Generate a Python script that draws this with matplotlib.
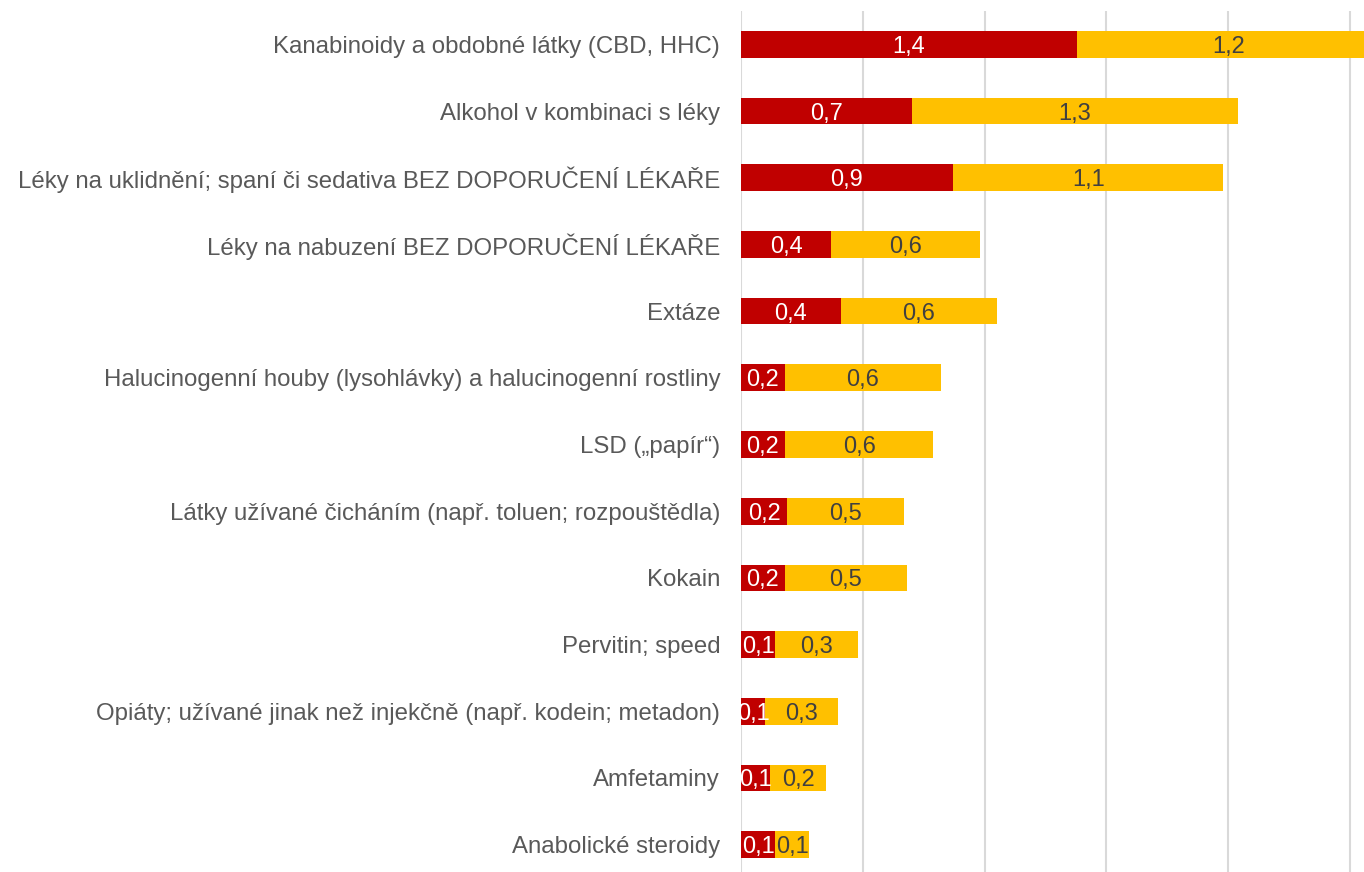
import numpy as np
import matplotlib
matplotlib.use("Agg")
import matplotlib.pyplot as plt

plt.rcParams['font.family'] = ['Liberation Sans', 'DejaVu Sans']

kategorie = [
    "Kanabinoidy a obdobné látky (CBD, HHC)",
    "Alkohol v kombinaci s léky",
    "Léky na uklidnění; spaní či sedativa BEZ DOPORUČENÍ LÉKAŘE",
    "Léky na nabuzení BEZ DOPORUČENÍ LÉKAŘE",
    "Extáze",
    "Halucinogenní houby (lysohlávky) a halucinogenní rostliny",
    "LSD („papír“)",
    "Látky užívané čicháním (např. toluen; rozpouštědla)",
    "Kokain",
    "Pervitin; speed",
    "Opiáty; užívané jinak než injekčně (např. kodein; metadon)",
    "Amfetaminy",
    "Anabolické steroidy",
]
cervena = [1.38, 0.70, 0.87, 0.37, 0.41, 0.18, 0.18, 0.19, 0.18, 0.14, 0.10, 0.12, 0.14]
zluta = [1.24, 1.34, 1.11, 0.61, 0.64, 0.64, 0.61, 0.48, 0.50, 0.34, 0.30, 0.23, 0.14]

CERVENA = '#C00000'
ZLUTA = '#FFC000'


def cz(v):
    return f"{v:.1f}".replace('.', ',')


fig = plt.figure(figsize=(13.64, 8.72), dpi=100)
ax = fig.add_axes([741 / 1364, 1 - 878 / 872, 1 - 741 / 1364, 867 / 872])

y = np.arange(len(kategorie))
ax.barh(y, cervena, height=0.4, color=CERVENA, zorder=2)
ax.barh(y, zluta, left=cervena, height=0.4, color=ZLUTA, zorder=2)

# popisky hodnot doprostred segmentu
for i in range(len(kategorie)):
    ax.text(cervena[i] / 2, y[i], cz(cervena[i]), ha='center', va='center_baseline',
            color='white', fontsize=17, zorder=3)
    ax.text(cervena[i] + zluta[i] / 2, y[i], cz(zluta[i]), ha='center',
            va='center_baseline', color='#404040', fontsize=17, zorder=3)

ax.set_yticks(y)
ax.set_yticklabels(kategorie, fontsize=17.3, color='#595959')
ax.set_ylim(len(kategorie) - 0.5, -0.5)
ax.set_xlim(0, 623 / 243.6)
ax.set_xticks(np.arange(0, 2.6, 0.5))
ax.tick_params(axis='x', length=0, labelbottom=False)
ax.tick_params(axis='y', length=0, pad=15)
ax.grid(axis='x', color='#d9d9d9', linewidth=1.5, zorder=0)
ax.set_axisbelow(True)
for s in ax.spines.values():
    s.set_visible(False)

fig.savefig('out.png', dpi=100)
